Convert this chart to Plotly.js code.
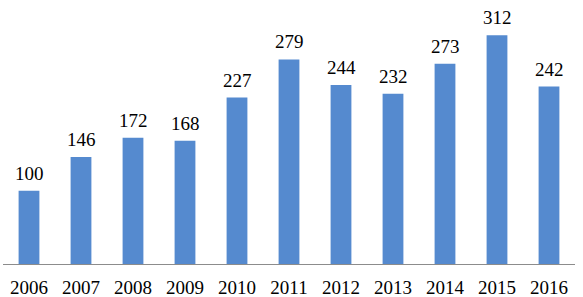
<!DOCTYPE html>
<html><head><meta charset="utf-8">
<script src="https://cdn.plot.ly/plotly-3.0.1.min.js"></script>
<style>html,body{margin:0;padding:0;background:#fff}#c{width:583px;height:297px}</style>
</head><body><div id="c"></div>
<script>
const years = ["2006","2007","2008","2009","2010","2011","2012","2013","2014","2015","2016"];
const values = [100,146,172,168,227,279,244,232,273,312,242];
const FONT = "Liberation Serif";
const annotations = years.map((y,i)=>({xref:"x",yref:"y",x:i,y:values[i],text:String(values[i]),showarrow:false,yanchor:"bottom",yshift:5,font:{family:FONT,size:19,color:"#000"}}));
Plotly.newPlot("c",[{type:"bar",x:years,y:values,marker:{color:"#558ACF"},hoverinfo:"none"}],{
  width:583,height:297,margin:{l:3,r:8,t:0,b:33},
  font:{family:FONT},
  paper_bgcolor:"#fff",plot_bgcolor:"#fff",bargap:0.6,showlegend:false,
  xaxis:{type:"category",categoryorder:"array",categoryarray:years,range:[-0.5,10.5],showline:true,linecolor:"#8c8c8c",linewidth:1,ticks:"outside",ticklen:6,tickcolor:"rgba(0,0,0,0)",tickfont:{family:FONT,size:19,color:"#000"},showgrid:false,zeroline:false},
  yaxis:{range:[0,360],visible:false,showgrid:false,zeroline:false},
  annotations:annotations
},{staticPlot:true});
</script></body></html>
